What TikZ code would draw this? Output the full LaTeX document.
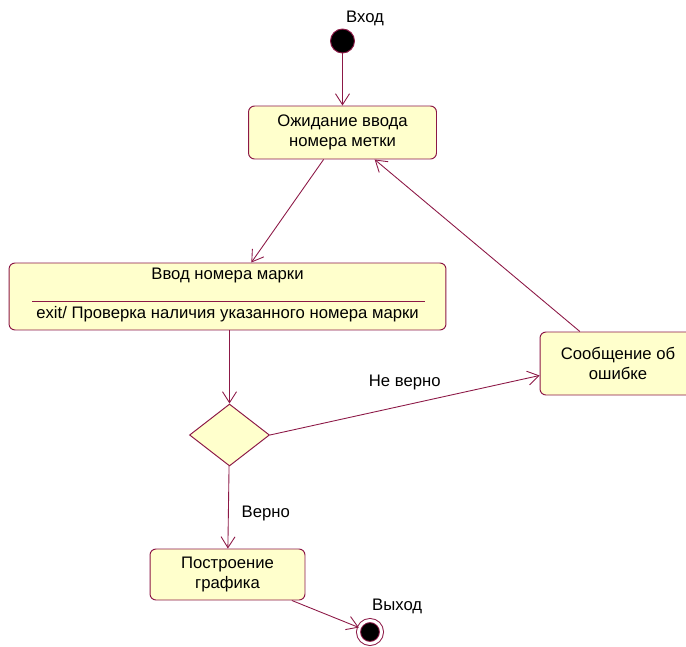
\documentclass[tikz,border=0pt]{standalone}
\usepackage{fontspec}
\setmainfont{Liberation Sans}
\usetikzlibrary{
  positioning,
  arrows.meta,
  shapes.geometric,
  calc
}
\definecolor{umlLine}{HTML}{8C1846}
\definecolor{umlFill}{HTML}{FFFFCC}

\begin{document}
\begin{tikzpicture}[
  x=0.02cm, y=-0.02cm,
  every node/.style={font=\fontsize{9.5}{11.5}\selectfont, align=center},
  actstate/.style={
    rectangle, rounded corners=1.2mm,
    draw=umlLine, fill=umlFill, line width=0.55pt
  },
  decision/.style={
    diamond, draw=umlLine, fill=umlFill, line width=0.55pt,
    minimum width=1.6cm, minimum height=1.24cm, inner sep=0pt
  },
  startdot/.style={
    circle, draw=umlLine, fill=black, line width=0.55pt,
    minimum size=0.48cm, inner sep=0pt
  },
  enddot/.style={
    circle, draw=umlLine, fill=black, line width=0.55pt,
    double=white, double distance=0.6mm,
    minimum size=0.46cm, inner sep=0pt
  },
  arrow/.style={-{Straight Barb[length=2.2mm, width=2.8mm]}, draw=umlLine, line width=0.5pt}
]
 \useasboundingbox (0,0) rectangle (686,646);
 \clip (0,0) rectangle (686,646);

 % Start and first state
 \node[startdot]  (start) at (342.5,41) {};
 \node[anchor=west] (startlbl) at (340,18) {Вход};
 \node[actstate, minimum width=3.76cm, minimum height=1.06cm]
   (wait) at (342.5,132.5) {Ожидание ввода\\номера метки};

 \draw[arrow] (start) -- (wait);

 % Input state with exit action
 \node[actstate, minimum width=8.74cm, minimum height=1.34cm]
   (input) at (227.5,296.5) {};
 \node (inputname) at (227.5,275) {Ввод номера марки};
 \node (inputexit) at (227.5,314) {exit/ Проверка наличия указанного номера марки};
 \draw[umlLine, line width=0.5pt] (32,301.5) -- (425,301.5);

 \draw[arrow] (wait) -- (input);

 % Decision and error branch
 \node[decision] (check) at (229.5,435) {};
 \node[actstate, minimum width=3.12cm, minimum height=1.26cm]
   (error) at (618,363.5) {Сообщение об\\ошибке};

 \draw[arrow] (input.south -| check) -- (check);
 \draw[arrow] (check.east) -- node[midway, above=5pt] (nolbl) {Не верно} ($(error.west)+(0,12)$);
 \draw[arrow] (error) -- (wait);

 % Plot and exit
 \node[actstate, minimum width=3.1cm, minimum height=1.02cm]
   (plot) at (227.5,574.5) {Построение\\графика};
 \node[enddot] (finish) at (370,632) {};
 \node[anchor=west] (finishlbl) at (366,606) {Выход};

 \draw[arrow] (check) -- node[pos=0.58, right=4pt] (yeslbl) {Верно} (plot);
 \draw[arrow] (plot) -- (finish);
\end{tikzpicture}
\end{document}
